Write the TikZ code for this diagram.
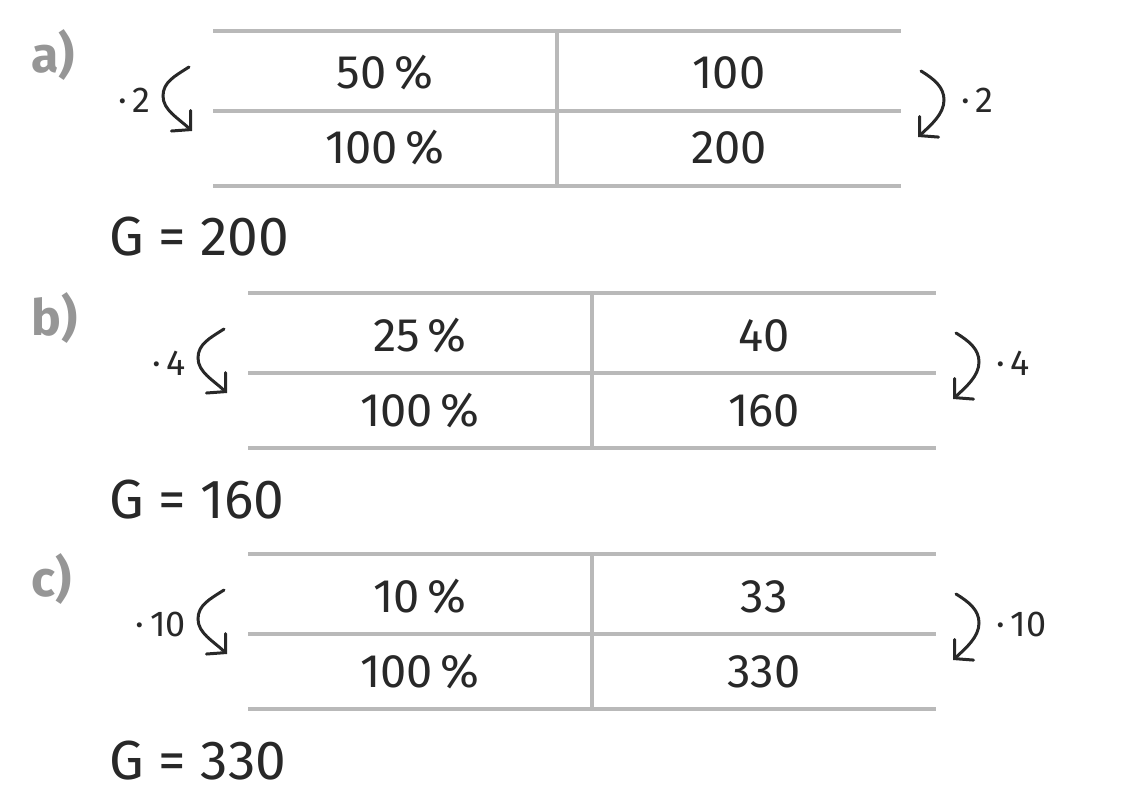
\documentclass[tikz,border=0pt]{standalone}
\usepackage{fontspec}
\setmainfont{Fira Sans}
\usetikzlibrary{arrows.meta}
\definecolor{ink}{RGB}{40,40,40}
\definecolor{rulec}{RGB}{185,185,185}
\definecolor{labc}{RGB}{150,150,150}
\begin{document}
\begin{tikzpicture}[x=1pt,y=-1pt,
  rulel/.style={draw=rulec,line width=3.5pt},
  cell/.style={anchor=base,inner sep=0pt,text=ink,font=\fontsize{47}{50}\selectfont},
  gline/.style={anchor=base west,inner sep=0pt,text=ink,font=\fontsize{55}{60}\selectfont},
  part/.style={anchor=base west,inner sep=0pt,text=labc,font=\fontsize{50}{55}\selectfont\bfseries},
  factor/.style={inner sep=0pt,text=ink,font=\fontsize{36}{40}\selectfont},
  turn/.style={draw=ink,line width=3pt,line cap=round,-{Straight Barb[length=13pt,width=28pt,line cap=round]}}
]
\useasboundingbox (0,0) rectangle (1124,810);
\foreach \nm/\lx/\ty/\pa/\va/\pb/\vb/\fa/\ga in {a/213/31/50/100/100/200/2/200, b/248/293/25/40/100/160/4/160, c/248/554/10/33/100/330/10/330} {
  \draw[rulel] (\lx,\ty) -- ({\lx+688},\ty);
  \draw[rulel] (\lx,{\ty+80}) -- ({\lx+688},{\ty+80});
  \draw[rulel] (\lx,{\ty+155}) -- ({\lx+688},{\ty+155});
  \draw[rulel] ({\lx+344},\ty) -- ({\lx+344},{\ty+155});
  \node[cell] (\nm p) at ({\lx+172},{\ty+58}) {\pa\,\%};
  \node[cell] (\nm v) at ({\lx+516},{\ty+58}) {\va};
  \node[cell] (\nm P) at ({\lx+172},{\ty+133}) {\pb\,\%};
  \node[cell] (\nm V) at ({\lx+516},{\ty+133}) {\vb};
  \node[gline] (\nm G) at (109,{\ty+225}) {G = \ga};
  \node[part] (\nm lab) at (31,{\ty+42}) {\nm)};
  \node[factor,anchor=base east] (\nm fl) at ({\lx-62},{\ty+82}) {·\,\fa};
  \node[factor,anchor=base west] (\nm fr) at ({\lx+688+60},{\ty+82}) {·\,\fa};
  \coordinate (\nm ls) at ({\lx-24},{\ty+36});
  \coordinate (\nm le) at ({\lx-21},{\ty+100});
  \coordinate (\nm rs) at ({\lx+708},{\ty+40});
  \coordinate (\nm re) at ({\lx+705},{\ty+106});
  \draw[turn] (\nm ls) .. controls ({\lx-38},{\ty+45}) and ({\lx-50},{\ty+51}) .. ({\lx-50},{\ty+65}) .. controls ({\lx-50},{\ty+79}) and ({\lx-35},{\ty+87}) .. (\nm le);
  \draw[turn] (\nm rs) .. controls ({\lx+721},{\ty+48}) and ({\lx+731},{\ty+56}) .. ({\lx+731},{\ty+69}) .. controls ({\lx+731},{\ty+83}) and ({\lx+718},{\ty+94}) .. (\nm re);
}
\end{tikzpicture}
\end{document}
